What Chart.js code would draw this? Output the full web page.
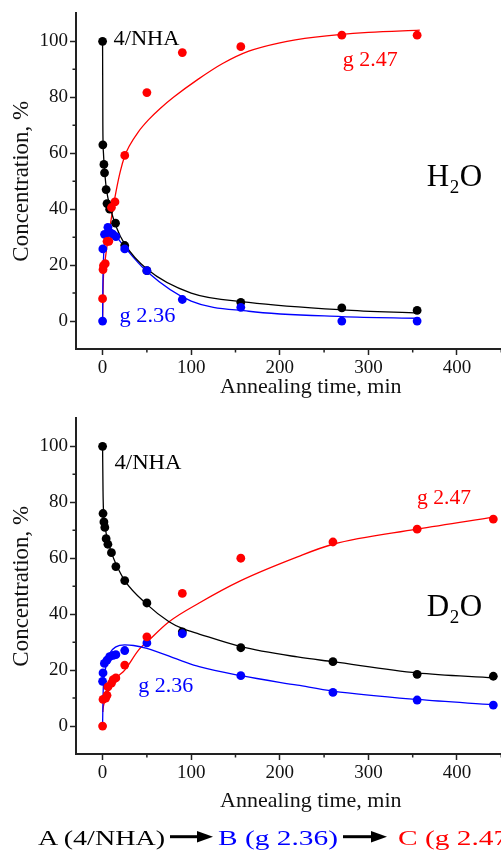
<!DOCTYPE html>
<html>
<head>
<meta charset="utf-8">
<title>Annealing kinetics, H2O / D2O</title>
<script src="https://cdn.jsdelivr.net/npm/chart.js@4.4.1/dist/chart.umd.min.js"></script>
<style>
  html, body { margin: 0; padding: 0; background: #fff; }
  body { position: relative; width: 501px; height: 855px; overflow: hidden; }
  .panel { position: absolute; left: 0; }
  .panel canvas { display: block; }
  #scheme { position: absolute; left: 0; top: 815px; }
</style>
</head>
<body>
<div class="panel" style="top:0"><canvas id="h2o" width="550" height="400"></canvas></div>
<div class="panel" style="top:405px"><canvas id="d2o" width="550" height="415"></canvas></div>
<svg id="scheme" width="501" height="40" style="font-family:'Liberation Serif','Times New Roman',serif" font-size="21">
  <text x="38" y="30" fill="#000" textLength="127" lengthAdjust="spacingAndGlyphs">A (4/NHA)</text>
  <line x1="170" y1="21.7" x2="200" y2="21.7" stroke="#000" stroke-width="3"/>
  <polygon points="197,16 213,21.7 197,27.4" fill="#000"/>
  <text x="218" y="30" fill="#0000ff" textLength="120" lengthAdjust="spacingAndGlyphs">B (g 2.36)</text>
  <line x1="343" y1="21.7" x2="374" y2="21.7" stroke="#000" stroke-width="3"/>
  <polygon points="371,16 387,21.7 371,27.4" fill="#000"/>
  <text x="398" y="30" fill="#ff0000" textLength="120" lengthAdjust="spacingAndGlyphs">C (g 2.47)</text>
</svg>
<script>
const SERIF = '"Liberation Serif", "Times New Roman", serif';
const BLACK = '#000000';
const BLUE = '#0000ff';
const RED = '#ff0000';
const AXIS = '#222222';

const timeTicks = [0, 100, 200, 300, 400];
const timeMinorTicks = [50, 150, 250, 350, 450];
const concTicks = [0, 20, 40, 60, 80, 100];
const concMinorTicks = [10, 30, 50, 70, 90];

// H2O: measured points
const h2oNhaTime = [0, 0.3, 1.5, 2.2, 4, 5, 8, 14.6, 25, 50, 156, 270, 355];
const h2oNha = [100, 63, 56, 53, 47, 42, 40, 35, 27, 18, 6.7, 4.7, 3.8];
const h2oG236Time = [0, 0.3, 2.2, 6, 8, 11.5, 15, 25, 50, 90, 156, 270, 355];
const h2oG236 = [0, 25.8, 31, 33.5, 31.7, 31.1, 30.2, 25.8, 18, 7.7, 4.9, 0, 0];
const h2oG247Time = [0, 0.5, 1, 3, 5, 7, 10, 14, 25, 50, 90, 156, 270, 355];
const h2oG247 = [8, 18.4, 19.8, 20.5, 28.5, 28.5, 40.6, 42.6, 59.2, 81.7, 96, 98.1, 102.2, 102.2];

// H2O: fitted curves
const h2oNhaFitTime = [0, 0.3, 1, 2, 4, 6, 10, 15, 25, 50, 100, 165, 270, 358];
const h2oNhaFit = [100, 70, 60, 55, 48, 44, 39, 34, 27.5, 18.6, 10, 6.7, 4, 2.8];
const h2oG236FitTime = [0, 0.3, 1, 3, 6, 10, 15, 25, 50, 100, 165, 270, 358];
const h2oG236Fit = [0, 12, 22, 30, 33, 32.3, 30.5, 26.4, 17.7, 7.1, 3.5, 1.6, 1];
const h2oG247FitTime = [0, 0.5, 1, 3, 6, 10, 15, 20, 25, 30, 40, 52, 65, 80, 108, 135, 165, 200, 240, 300, 358];
const h2oG247Fit = [0, 10, 16, 22, 29, 37, 46, 53.5, 59, 62.5, 67.5, 72, 76, 80, 86.5, 92, 96.5, 99.5, 101.5, 103.2, 104];

// D2O: measured points
const d2oNhaTime = [0, 0.5, 1.5, 2.5, 4, 6, 10, 15, 25, 50, 90, 156, 260, 355, 441];
const d2oNha = [100, 76, 73, 71, 67, 65, 62, 57, 52, 44, 33.7, 28, 23, 18.5, 17.8];
const d2oG236Time = [0, 0.5, 2, 5, 8, 12, 15, 25, 50, 90, 156, 260, 355, 441];
const d2oG236 = [16, 19, 22.4, 23.6, 24.8, 25.3, 25.5, 27, 29.7, 33, 18, 12, 9.3, 7.5];
const d2oG247Time = [0, 0.5, 3.5, 5, 6, 10, 12, 15, 25, 50, 90, 156, 260, 355, 441];
const d2oG247 = [0, 9.5, 10, 11, 14, 15.3, 16.6, 17.2, 21.8, 31.9, 47.4, 60, 65.8, 70.4, 74];

// D2O: fitted curves
const d2oNhaFitTime = [0, 0.5, 1, 2, 4, 6, 10, 15, 25, 50, 75, 90, 109, 156, 220, 260, 355, 441];
const d2oNhaFit = [100, 84, 77, 73.5, 69, 66, 62, 58, 52, 43.5, 37.3, 34.9, 32.9, 28.4, 24.7, 23, 19, 17.2];
const d2oG236FitTime = [0, 0.5, 1, 3, 5, 8, 15, 25, 35, 50, 90, 109, 156, 220, 260, 355, 441];
const d2oG236Fit = [0, 10, 15, 20, 23, 26, 28.3, 29, 28.8, 27.8, 23.2, 21.2, 18, 14.6, 12.5, 9.5, 7.6];
const d2oG247FitTime = [0.3, 0.5, 2, 5, 10, 15, 25, 41, 50, 75, 109, 156, 220, 260, 355, 441];
const d2oG247Fit = [5, 6, 8.5, 11.5, 14.5, 17, 20, 27.3, 30, 37.3, 44, 52, 60.5, 65, 70.4, 74.7];

const pts = (xs, ys) => xs.map((x, i) => ({ x, y: ys[i] }));

// short ticks between the labelled ones
const minorTicks = {
  id: 'minorTicks',
  afterDraw(chart) {
    const { ctx, scales: { x, y } } = chart;
    ctx.save();
    ctx.strokeStyle = AXIS;
    ctx.lineWidth = 1.5;
    ctx.beginPath();
    timeMinorTicks.forEach((v) => {
      const px = x.getPixelForValue(v);
      ctx.moveTo(px, x.top);
      ctx.lineTo(px, x.top + 3.5);
    });
    concMinorTicks.forEach((v) => {
      const py = y.getPixelForValue(v);
      ctx.moveTo(y.right, py);
      ctx.lineTo(y.right - 3.5, py);
    });
    ctx.stroke();
    ctx.restore();
  },
};

// curve labels and the solvent formula, anchored in data units
const panelText = {
  id: 'panelText',
  afterDatasetsDraw(chart, args, opts) {
    const { ctx, scales: { x, y } } = chart;
    ctx.save();
    ctx.textBaseline = 'alphabetic';
    opts.labels.forEach((l) => {
      ctx.font = `${l.size}px ${SERIF}`;
      ctx.fillStyle = l.color;
      const w = ctx.measureText(l.text).width;
      ctx.save();
      ctx.translate(x.getPixelForValue(l.t), y.getPixelForValue(l.c));
      ctx.scale(l.width / w, 1);
      ctx.fillText(l.text, 0, 0);
      ctx.restore();
    });
    const f = opts.formula;
    let px = x.getPixelForValue(f.t);
    const py = y.getPixelForValue(f.c);
    ctx.fillStyle = BLACK;
    ctx.font = `31px ${SERIF}`;
    ctx.fillText(f.main, px, py);
    px += ctx.measureText(f.main).width + 0.5;
    ctx.font = `19px ${SERIF}`;
    ctx.fillText('2', px, py + 7);
    px += ctx.measureText('2').width + 0.5;
    ctx.font = `31px ${SERIF}`;
    ctx.fillText('O', px, py);
    ctx.restore();
  },
};

const buildPanel = (id, panel) => {
  const ctx = document.getElementById(id).getContext('2d');
  const dot = (data, color, order) => ({
    data, order, backgroundColor: color, borderWidth: 0, pointRadius: 4.4, showLine: false,
  });
  const fit = (data, color, order) => ({
    data, order, borderColor: color, borderWidth: 1.3, pointRadius: 0, showLine: true,
    fill: false, cubicInterpolationMode: 'monotone',
  });

  return new Chart(ctx, {
    type: 'scatter',
    data: {
      datasets: [
        dot(panel.g247, RED, 1),
        dot(panel.g236, BLUE, 2),
        dot(panel.nha, BLACK, 3),
        fit(panel.nhaFit, BLACK, 4),
        fit(panel.g236Fit, BLUE, 5),
        fit(panel.g247Fit, RED, 6),
      ],
    },
    options: {
      responsive: false,
      animation: false,
      events: [],
      layout: { padding: { top: panel.top, left: 0, right: 0, bottom: 0 } },
      plugins: {
        legend: { display: false },
        tooltip: { enabled: false },
        panelText: { labels: panel.labels, formula: panel.formula },
      },
      scales: {
        x: {
          type: 'linear',
          min: -30,
          max: 500,
          afterBuildTicks: (s) => { s.ticks = timeTicks.map((v) => ({ value: v })); },
          afterFit: (s) => { s.height = panel.xHeight; },
          grid: { drawOnChartArea: false, tickLength: 6, tickWidth: 1.5, tickColor: AXIS },
          border: { color: AXIS, width: 2 },
          ticks: { padding: 2, maxRotation: 0, color: '#111', font: { family: SERIF, size: 19 } },
          title: {
            display: true,
            text: 'Annealing time, min',
            color: '#111',
            font: { family: SERIF, size: 22 },
            padding: { top: 0, bottom: panel.titlePad },
          },
        },
        y: {
          type: 'linear',
          min: -10,
          max: 110,
          afterBuildTicks: (s) => { s.ticks = concTicks.map((v) => ({ value: v })); },
          afterFit: (s) => { s.width = 76; },
          grid: { drawOnChartArea: false, tickLength: 6, tickWidth: 1.5, tickColor: AXIS },
          border: { color: AXIS, width: 2 },
          ticks: { padding: 2, color: '#111', font: { family: SERIF, size: 19 } },
          title: {
            display: true,
            text: 'Concentration, %',
            color: '#111',
            font: { family: SERIF, size: 23 },
            padding: { top: 8, bottom: 0 },
          },
        },
      },
    },
    plugins: [minorTicks, panelText],
  });
};

buildPanel('h2o', {
  top: 12.5,
  xHeight: 51,
  titlePad: 0,
  nha: pts(h2oNhaTime, h2oNha),
  g236: pts(h2oG236Time, h2oG236),
  g247: pts(h2oG247Time, h2oG247),
  nhaFit: pts(h2oNhaFitTime, h2oNhaFit),
  g236Fit: pts(h2oG236FitTime, h2oG236Fit),
  g247Fit: pts(h2oG247FitTime, h2oG247Fit),
  labels: [
    { text: '4/NHA', t: 12.3, c: 98.6, size: 20, width: 66, color: BLACK },
    { text: 'g 2.47', t: 271, c: 91.3, size: 20, width: 55, color: RED },
    { text: 'g 2.36', t: 19, c: -0.4, size: 20, width: 56, color: BLUE },
  ],
  formula: { main: 'H', t: 366, c: 48.4 },
});

buildPanel('d2o', {
  top: 13,
  xHeight: 66,
  titlePad: 5.5,
  nha: pts(d2oNhaTime, d2oNha),
  g236: pts(d2oG236Time, d2oG236),
  g247: pts(d2oG247Time, d2oG247),
  nhaFit: pts(d2oNhaFitTime, d2oNhaFit),
  g236Fit: pts(d2oG236FitTime, d2oG236Fit),
  g247Fit: pts(d2oG247FitTime, d2oG247Fit),
  labels: [
    { text: '4/NHA', t: 13.4, c: 92, size: 20, width: 67, color: BLACK },
    { text: 'g 2.47', t: 355, c: 79.5, size: 20, width: 54, color: RED },
    { text: 'g 2.36', t: 40.3, c: 12.25, size: 20, width: 55, color: BLUE },
  ],
  formula: { main: 'D', t: 366, c: 39.3 },
});
</script>
</body>
</html>
